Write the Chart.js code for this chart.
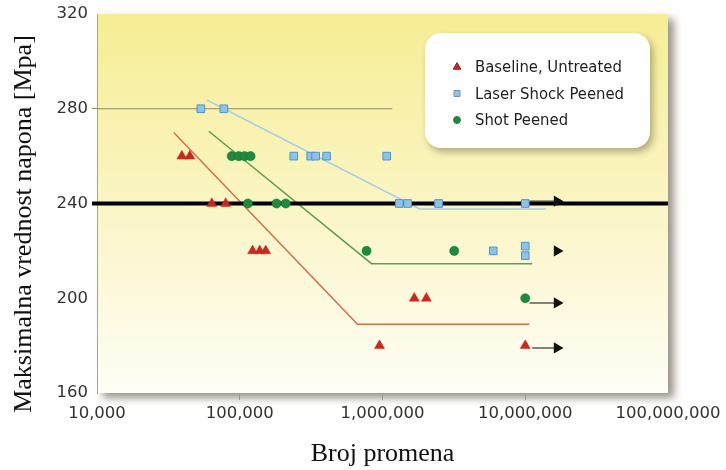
<!DOCTYPE html>
<html><head><meta charset="utf-8">
<script src="https://cdn.jsdelivr.net/npm/chart.js@4/dist/chart.umd.min.js"></script>
<style>html,body{margin:0;padding:0;background:#fff;}#wrap{width:726px;height:470px;position:relative;}</style>
</head><body><div id="wrap"><canvas id="c" width="726" height="470"></canvas></div>
<script>
// ---- data ----
const xTickValues = [10000, 100000, 1000000, 10000000, 100000000];
const yTickValues = [160, 200, 240, 280, 320];
const seriesLabels = ['Baseline, Untreated', 'Laser Shock Peened', 'Shot Peened'];

const baselineCycles = [39300, 44700, 63700, 79700, 123000, 138000, 152000, 1670000, 2030000, 953000, 10000000];
const baselineStress = [260, 260, 240, 240, 220, 220, 220, 200, 200, 180, 180];
const laserCycles = [53400, 77300, 239000, 314000, 340000, 406000, 1070000, 1310000, 1500000, 2470000, 10000000, 5970000, 10000000, 10000000];
const laserStress = [280, 280, 260, 260, 260, 260, 260, 240, 240, 240, 240, 220, 222, 218];
const shotCycles = [87900, 98400, 108000, 119000, 114000, 181000, 210000, 773000, 3180000, 10000000];
const shotStress = [260, 260, 260, 260, 240, 240, 240, 220, 220, 200];

const baselineFitCycles = [34500, 668000, 10700000];
const baselineFitStress = [270, 189, 189];
const laserFitCycles = [58800, 1820000, 14000000];
const laserFitStress = [283.7, 237.7, 237.7];
const shotFitCycles = [60700, 838000, 11200000];
const shotFitStress = [270.5, 214.6, 214.6];

const refLineCycles = [10000, 1170000];
const refLineStress = [280, 280];
const limitLineCycles = [10000, 100000000];
const limitLineStress = [240, 240];

const runoutStress = [241, 220, 198, 179];
const runoutFrom = [10700000, 16700000, 10700000, 11200000];
const runoutTo = [16700000, 16700000, 16700000, 16700000];

// ---- helpers ----
const pts = (xs, ys) => xs.map((x, i) => ({x: x, y: ys[i]}));
const COL = {red: '#c62a1f', blueFill: '#8cc4e8', blueEdge: '#4f95c8', green: '#1f8a3d'};

const datasets = [
  {type: 'scatter', label: seriesLabels[0], data: pts(baselineCycles, baselineStress), pointStyle: 'triangle', pointRadius: 5.8,
   backgroundColor: COL.red, borderColor: COL.red, borderWidth: 0.5, order: 1, isSeries: true, legendRadius: 4.2},
  {type: 'scatter', label: seriesLabels[1], data: pts(laserCycles, laserStress), pointStyle: 'rect', pointRadius: 5.4,
   backgroundColor: COL.blueFill, borderColor: COL.blueEdge, borderWidth: 1, order: 1, isSeries: true, legendRadius: 4.2},
  {type: 'scatter', label: seriesLabels[2], data: pts(shotCycles, shotStress), pointStyle: 'circle', pointRadius: 4.6,
   backgroundColor: COL.green, borderColor: '#17702f', borderWidth: 0.5, order: 1, isSeries: true, legendRadius: 3.4},
  {type: 'line', data: pts(baselineFitCycles, baselineFitStress), borderColor: '#d0704c', borderWidth: 1.5, pointRadius: 0, order: 5},
  {type: 'line', data: pts(laserFitCycles, laserFitStress), borderColor: '#a6d0e6', borderWidth: 1.5, pointRadius: 0, order: 5},
  {type: 'line', data: pts(shotFitCycles, shotFitStress), borderColor: '#5e9e52', borderWidth: 1.5, pointRadius: 0, order: 5},
  {type: 'line', data: pts(refLineCycles, refLineStress), borderColor: '#8c8868', borderWidth: 1, pointRadius: 0, order: 6},
  {type: 'line', data: pts(limitLineCycles, limitLineStress), borderColor: '#000000', borderWidth: 4, pointRadius: 0, order: 4}
];
runoutStress.forEach((s, i) => {
  datasets.push({type: 'line', data: [{x: runoutFrom[i], y: s}, {x: runoutTo[i], y: s}], borderColor: '#333',
    borderWidth: 1.2, pointStyle: 'triangle', rotation: 90, pointRadius: [0, 6.5], backgroundColor: '#111',
    pointBorderColor: '#111', pointBorderWidth: 0, order: 2});
});

const bgPlugin = {
  id: 'bg',
  beforeDraw(chart) {
    const {ctx, chartArea: a} = chart;
    ctx.save();
    ctx.shadowColor = 'rgba(70,60,40,0.55)';
    ctx.shadowBlur = 8; ctx.shadowOffsetX = 6; ctx.shadowOffsetY = 5;
    const g = ctx.createLinearGradient(0, a.top, 0, a.bottom);
    g.addColorStop(0, '#f6ed94');
    g.addColorStop(0.45, '#faf4bf');
    g.addColorStop(1, '#fffef7');
    ctx.fillStyle = g;
    ctx.fillRect(a.left, a.top, a.right - a.left, a.bottom - a.top);
    ctx.restore();
  }
};

const overlayPlugin = {
  id: 'overlay',
  afterDraw(chart) {
    const ctx = chart.ctx;
    // y axis title
    ctx.save();
    ctx.translate(24, 224);
    ctx.rotate(-Math.PI / 2);
    ctx.font = '26px "Liberation Serif", "Times New Roman", serif';
    ctx.fillStyle = '#111';
    ctx.textAlign = 'center';
    ctx.textBaseline = 'middle';
    ctx.fillText('Maksimalna vrednost napona [Mpa]', 0, 0);
    ctx.restore();
    // legend box
    const bx = 425, by = 33, bw = 225, bh = 115, r = 16;
    ctx.save();
    ctx.shadowColor = 'rgba(90,80,50,0.45)';
    ctx.shadowBlur = 7; ctx.shadowOffsetX = 3; ctx.shadowOffsetY = 4;
    ctx.beginPath();
    ctx.moveTo(bx + r, by);
    ctx.arcTo(bx + bw, by, bx + bw, by + bh, r);
    ctx.arcTo(bx + bw, by + bh, bx, by + bh, r);
    ctx.arcTo(bx, by + bh, bx, by, r);
    ctx.arcTo(bx, by, bx + bw, by, r);
    ctx.closePath();
    ctx.fillStyle = '#ffffff';
    ctx.fill();
    ctx.restore();
    const items = chart.data.datasets.filter(d => d.isSeries);
    ctx.save();
    ctx.font = '16.5px "DejaVu Sans Condensed", "DejaVu Sans", sans-serif';
    ctx.fillStyle = '#1e1e1e';
    ctx.textBaseline = 'middle';
    items.forEach((d, i) => {
      const y = 67 + i * 26.5;
      Chart.helpers.drawPoint(ctx, {pointStyle: d.pointStyle, radius: d.legendRadius, rotation: 0,
        borderWidth: 0.5}, 457, y);
      ctx.fillStyle = d.backgroundColor; ctx.strokeStyle = d.borderColor; ctx.lineWidth = 0.5;
      ctx.beginPath();
      Chart.helpers.drawPoint(ctx, {pointStyle: d.pointStyle, radius: d.legendRadius, rotation: 0, borderWidth: 0.5}, 457, y);
      ctx.fillStyle = '#1e1e1e';
      ctx.fillText(d.label, 475, y + 1);
    });
    ctx.restore();
  }
};

new Chart(document.getElementById('c'), {
  data: {datasets: datasets},
  options: {
    responsive: false, animation: false, devicePixelRatio: 1,
    layout: {padding: {left: 0, right: 58, top: 14, bottom: 0}},
    plugins: {legend: {display: false}, tooltip: {enabled: false}},
    scales: {
      x: {
        type: 'logarithmic', min: xTickValues[0], max: xTickValues[xTickValues.length - 1],
        afterBuildTicks: s => { s.ticks = xTickValues.map(v => ({value: v})); },
        afterFit: s => { s.height = 77; },
        border: {display: false},
        grid: {drawOnChartArea: false, drawTicks: true, tickLength: 7,
          tickColor: c => (c.tick && c.tick.value > xTickValues[0] && c.tick.value < xTickValues[xTickValues.length - 1]) ? '#9a9a9a' : 'rgba(0,0,0,0)'},
        ticks: {padding: 4, color: '#333', font: {family: '"DejaVu Sans", sans-serif', size: 16.5},
          maxRotation: 0, autoSkip: false, callback: v => Number(v).toLocaleString('en-US')},
        title: {display: true, text: 'Broj promena', color: '#111', padding: {top: 0, bottom: 0},
          font: {family: '"Liberation Serif", "Times New Roman", serif', size: 26, lineHeight: 1.2}}
      },
      y: {
        type: 'linear', min: yTickValues[0], max: yTickValues[yTickValues.length - 1],
        afterBuildTicks: s => { s.ticks = yTickValues.map(v => ({value: v})); },
        afterFit: s => { s.width = 97; },
        border: {display: true, color: '#b8a08c', width: 1},
        grid: {drawOnChartArea: false, drawTicks: true, tickLength: 5,
          tickColor: c => c.tick && c.tick.value === 240 ? '#000' : (c.tick && c.tick.value === 280 ? '#8c8868' : 'rgba(0,0,0,0)'),
          tickWidth: c => c.tick && c.tick.value === 240 ? 4 : 1},
        ticks: {padding: 4, color: '#333', font: {family: '"DejaVu Sans", sans-serif', size: 16.5}}
      }
    }
  },
  plugins: [bgPlugin, overlayPlugin]
});
</script>
</body></html>
